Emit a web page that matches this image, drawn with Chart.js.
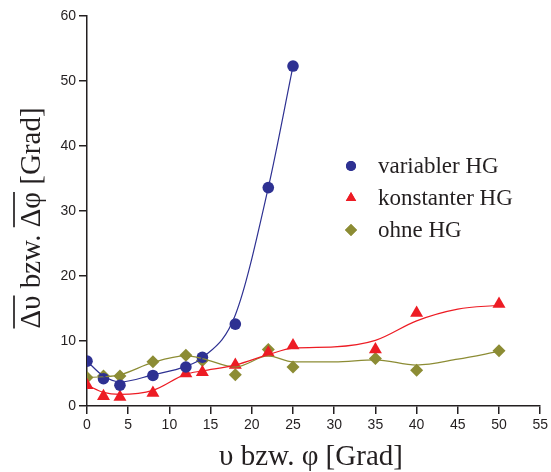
<!DOCTYPE html>
<html>
<head>
<meta charset="utf-8">
<script src="https://cdn.jsdelivr.net/npm/chart.js@4"></script>
<style>
  body { margin: 0; background: #fff; }
  #wrap { width: 551px; height: 472px; }
</style>
</head>
<body>
<div id="wrap"><canvas id="grafik" width="551" height="472"></canvas></div>
<script>
// Messpunkte
const winkel = [0, 2, 4, 8, 12, 14, 18, 22, 25, 35, 40, 50];
const variablerHG = [6.9, 4.2, 3.2, 4.7, 6.0, 7.5, 12.6, 33.6, 52.3];
const konstanterHG = [3.2, 1.5, 1.4, 2.0, 5.0, 5.2, 6.3, 8.2, 9.3, 8.7, 14.3, 15.7];
const ohneHG = [4.4, 4.6, 4.6, 6.8, 7.8, 7.0, 4.8, 8.7, 6.0, 7.3, 5.5, 8.5];

// Ausgleichskurven
const kurveX = [0, 2, 4, 8, 12, 14, 18, 22, 25, 30, 35, 40, 45, 50];
const variablerKurve = [6.9, 4.6, 3.7, 4.8, 6.1, 7.4, 14.0, 33.6, 52.3];
const konstanterKurve = [3.2, 2.1, 1.8, 2.4, 4.9, 5.4, 6.3, 7.9, 8.9, 9.1, 10.1, 13.1, 14.9, 15.5];
const ohneKurve = [4.4, 4.5, 4.8, 6.7, 7.7, 7.3, 6.0, 7.7, 6.8, 6.8, 7.1, 6.3, 7.2, 8.4];

const xTicks = [0, 5, 10, 15, 20, 25, 30, 35, 40, 45, 50, 55];
const yTicks = [0, 10, 20, 30, 40, 50, 60];

const reihen = [
    { name: "variabler HG", farbe: "#2e3192", form: "circle", radius: 5.8, werte: variablerHG, kurve: variablerKurve },
    { name: "konstanter HG", farbe: "#ed1c24", form: "triangle", radius: 7.5, werte: konstanterHG, kurve: konstanterKurve },
    { name: "ohne HG", farbe: "#8c8c34", form: "rectRot", radius: 6.5, werte: ohneHG, kurve: ohneKurve }
];

const paare = (xs, ys) => ys.map((y, i) => ({ x: xs[i], y: y }));

const datasets = [];
reihen.forEach(r => {
    datasets.push({
        label: r.name + " Kurve",
        data: paare(kurveX, r.kurve),
        showLine: true,
        borderColor: r.farbe,
        borderWidth: 1.2,
        pointRadius: 0,
        cubicInterpolationMode: "monotone",
        fill: false
    });
});
reihen.forEach(r => {
    datasets.push({
        label: r.name,
        data: paare(winkel, r.werte),
        showLine: false,
        pointStyle: r.form,
        pointRadius: r.radius,
        pointBackgroundColor: r.farbe,
        pointBorderColor: r.farbe,
        pointBorderWidth: 0
    });
});

const serif = '"Liberation Serif", "DejaVu Serif", serif';

const beschriftung = {
    id: "beschriftung",
    afterDraw(chart) {
        const c = chart.ctx;
        c.save();
        c.fillStyle = "#231f20";
        c.strokeStyle = "#231f20";

        // Legende
        c.font = "23px " + serif;
        c.textBaseline = "middle";
        reihen.forEach((r, i) => {
            const y = 166 + i * 32;
            c.fillStyle = r.farbe;
            Chart.helpers.drawPoint(c, { pointStyle: r.form, radius: r.form === "circle" ? 5 : 6, borderWidth: 0 }, 351, y);
            c.fill();
            c.fillStyle = "#231f20";
            c.fillText(r.name, 378, y + 1);
        });

        // x-Achsentitel
        c.font = "29px " + serif;
        c.textAlign = "center";
        c.textBaseline = "alphabetic";
        c.fillText("υ bzw. φ [Grad]", 311, 465);

        // y-Achsentitel mit Überstrichen
        c.translate(40, 218);
        c.rotate(-Math.PI / 2);
        c.font = "29px " + serif;
        c.textAlign = "left";
        const teile = ["Δυ", " bzw. ", "Δφ", " [Grad]"];
        const gesamt = teile.reduce((s, t) => s + c.measureText(t).width, 0);
        let x = -gesamt / 2;
        c.lineWidth = 1.7;
        teile.forEach((t, i) => {
            const w = c.measureText(t).width;
            c.fillText(t, x, 0);
            if (i === 0 || i === 2) {
                c.beginPath();
                c.moveTo(x, -26);
                c.lineTo(x + w, -26);
                c.stroke();
            }
            x += w;
        });
        c.restore();
    }
};

new Chart(document.getElementById("grafik"), {
    type: "scatter",
    data: { datasets: datasets },
    options: {
        responsive: false,
        animation: false,
        layout: { padding: { left: 0, right: 10, top: 16, bottom: 0 } },
        plugins: { legend: { display: false }, tooltip: { enabled: false } },
        scales: {
            x: {
                type: "linear",
                min: 0,
                max: 55,
                afterBuildTicks: s => { s.ticks = xTicks.map(v => ({ value: v })); },
                afterFit: s => { s.height = 66; },
                grid: { drawOnChartArea: false, drawTicks: true, tickLength: 8, color: "#231f20", lineWidth: 1.5 },
                border: { color: "#231f20", width: 1.5 },
                ticks: { color: "#231f20", font: { family: '"Liberation Sans", Arial, sans-serif', size: 14 }, padding: 3, maxRotation: 0 }
            },
            y: {
                type: "linear",
                min: 0,
                max: 60,
                afterBuildTicks: s => { s.ticks = yTicks.map(v => ({ value: v })); },
                afterFit: s => { s.width = 87; },
                grid: { drawOnChartArea: false, drawTicks: true, tickLength: 8, color: "#231f20", lineWidth: 1.5 },
                border: { color: "#231f20", width: 1.5 },
                ticks: { color: "#231f20", font: { family: '"Liberation Sans", Arial, sans-serif', size: 14 }, padding: 3 }
            }
        }
    },
    plugins: [beschriftung]
});
</script>
</body>
</html>
